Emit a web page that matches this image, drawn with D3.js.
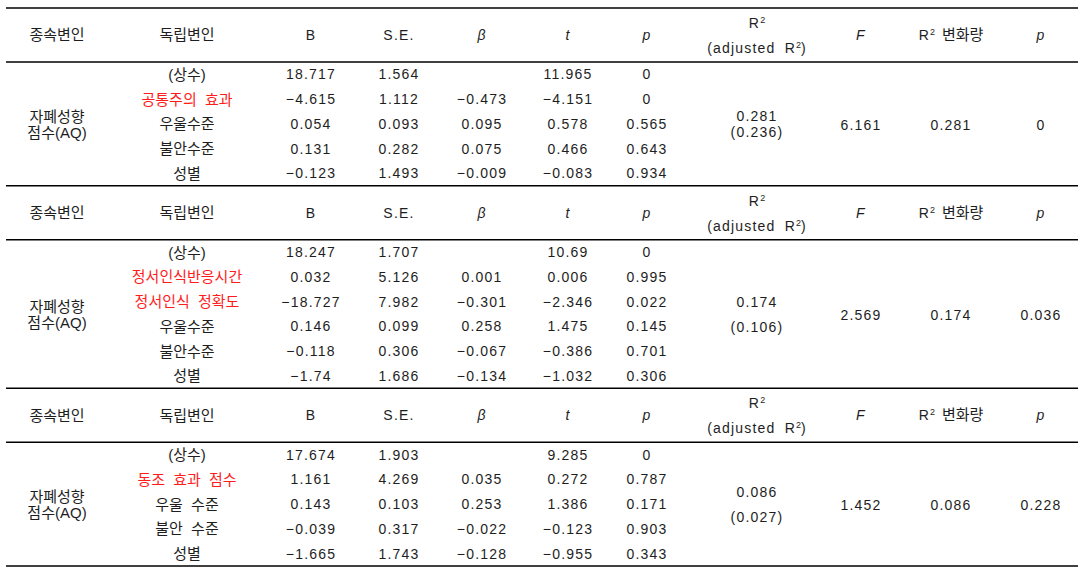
<!DOCTYPE html>
<html><head><meta charset="utf-8">
<script src="https://cdn.jsdelivr.net/npm/d3@7"></script>
<style>
body{margin:0;background:#fff}
text{font-family:"Liberation Sans","Noto Sans CJK KR",sans-serif;font-size:14px;letter-spacing:1.2px;word-spacing:4px;fill:#1e1e1e}
text.ko{font-size:15px;letter-spacing:0px}
</style></head>
<body><svg id="c" width="1087" height="576"></svg>
<script>
// ---- data ----
const columns = ["dep","indep","B","SE","beta","t","p","r2","F","r2change","pModel"];
const headerLabels = ["종속변인","독립변인","B","S.E.","β","t","p","R2","F","R2 변화량","p"];
const italicHeaders = ["beta","t","p","F","pModel"];
const dependentLabel = ["자폐성향","점수(AQ)"];

const m1Vars  = ["(상수)","공통주의 효과","우울수준","불안수준","성별"];
const m1Focus = [0,1,0,0,0];
const m1B     = [18.717,-4.615,0.054,0.131,-0.123];
const m1SE    = [1.564,1.112,0.093,0.282,1.493];
const m1Beta  = [null,-0.473,0.095,0.075,-0.009];
const m1T     = [11.965,-4.151,0.578,0.466,-0.083];
const m1P     = [0,0,0.565,0.643,0.934];

const m2Vars  = ["(상수)","정서인식반응시간","정서인식 정확도","우울수준","불안수준","성별"];
const m2Focus = [0,1,1,0,0,0];
const m2B     = [18.247,0.032,-18.727,0.146,-0.118,-1.74];
const m2SE    = [1.707,5.126,7.982,0.099,0.306,1.686];
const m2Beta  = [null,0.001,-0.301,0.258,-0.067,-0.134];
const m2T     = [10.69,0.006,-2.346,1.475,-0.386,-1.032];
const m2P     = [0,0.995,0.022,0.145,0.701,0.306];

const m3Vars  = ["(상수)","동조 효과 점수","우울 수준","불안 수준","성별"];
const m3Focus = [0,1,0,0,0];
const m3B     = [17.674,1.161,0.143,-0.039,-1.665];
const m3SE    = [1.903,4.269,0.103,0.317,1.743];
const m3Beta  = [null,0.035,0.253,-0.022,-0.128];
const m3T     = [9.285,0.272,1.386,-0.123,-0.955];
const m3P     = [0,0.787,0.171,0.903,0.343];

const modelR2       = [0.281,0.174,0.086];
const modelAdjR2    = [0.236,0.106,0.027];
const modelF        = [6.161,2.569,1.452];
const modelR2Change = [0.281,0.174,0.086];
const modelP        = [0,0.036,0.228];

// ---- layout ----
const models = [
  {vars:m1Vars,focus:m1Focus,B:m1B,SE:m1SE,beta:m1Beta,t:m1T,p:m1P,r2Gap:16},
  {vars:m2Vars,focus:m2Focus,B:m2B,SE:m2SE,beta:m2Beta,t:m2T,p:m2P,r2Gap:25},
  {vars:m3Vars,focus:m3Focus,B:m3B,SE:m3SE,beta:m3Beta,t:m3T,p:m3P,r2Gap:25}
];
const fmt = v => v == null ? "" : String(v).replace("-", "\u2212");
const isKo = s => /[\uac00-\ud7a3]/.test(s);
const x = d3.scaleOrdinal().domain(columns).range([57,187,311,399,482,568,647,757,861,951,1041]);
const lineX = [6,1078];
const headerH = 54, rowH = 24.75, top0 = 8;

const svg = d3.select("#c");
const hline = yy => svg.append("line").attr("x1",lineX[0]).attr("x2",lineX[1])
  .attr("y1",yy).attr("y2",yy).attr("stroke","#000").attr("stroke-width",1.3);
const label = (col, yy, txt) => svg.append("text").attr("x", x(col)).attr("y", yy)
  .attr("dy","0.36em").attr("text-anchor","middle").classed("ko", isKo(txt)).text(txt);

function supText(col, yy, before, after){
  const t = svg.append("text").attr("x", x(col)).attr("y", yy).attr("dy","0.36em").attr("text-anchor","middle");
  t.append("tspan").text(before);
  t.append("tspan").attr("dy","-5").style("font-size","9px").style("letter-spacing","0px").text("2");
  if (after) t.append("tspan").attr("dy","5").text(after);
  return t;
}

let secTop = top0;
models.forEach((m, mi) => {
  const n = m.vars.length;
  const hc = secTop + headerH/2;
  hline(secTop);
  columns.forEach((c, ci) => {
    if (c === "r2") {
      supText(c, hc - 12, "R", null);
      supText(c, hc + 13, "(adjusted R", ")");
    } else if (c === "r2change") {
      const t = svg.append("text").attr("x", x(c)).attr("y", hc).attr("dy","0.36em").attr("text-anchor","middle");
      t.append("tspan").text("R");
      t.append("tspan").attr("dy","-5").style("font-size","9px").style("letter-spacing","0px").text("2");
      t.append("tspan").attr("dy","5").attr("dx","7").style("font-size","15px").style("letter-spacing","0px").text("변화량");
    } else {
      const t = label(c, hc, headerLabels[ci]);
      if (italicHeaders.includes(c)) t.style("font-style","italic");
    }
  });
  const bodyTop = secTop + headerH;
  hline(bodyTop);
  const y = d3.scaleLinear().domain([0, n]).range([bodyTop, bodyTop + n*rowH]);
  const bc = (y(0) + y(n)) / 2;
  label("dep", bc - 7.5, dependentLabel[0]);
  label("dep", bc + 8.5, dependentLabel[1]);
  m.vars.forEach((v, i) => {
    const yc = y(i + 0.5);
    label("indep", yc, v).style("fill", m.focus[i] ? "#ff1c1c" : null);
    label("B", yc, fmt(m.B[i]));
    label("SE", yc, fmt(m.SE[i]));
    label("beta", yc, fmt(m.beta[i]));
    label("t", yc, fmt(m.t[i]));
    label("p", yc, fmt(m.p[i]));
  });
  label("r2", bc + 0.5 - m.r2Gap/2, fmt(modelR2[mi]));
  label("r2", bc + 0.5 + m.r2Gap/2, "(" + fmt(modelAdjR2[mi]) + ")");
  label("F", bc + 1, fmt(modelF[mi]));
  label("r2change", bc + 1, fmt(modelR2Change[mi]));
  label("pModel", bc + 1, fmt(modelP[mi]));
  secTop = y(n);
});
hline(secTop);
</script></body></html>
